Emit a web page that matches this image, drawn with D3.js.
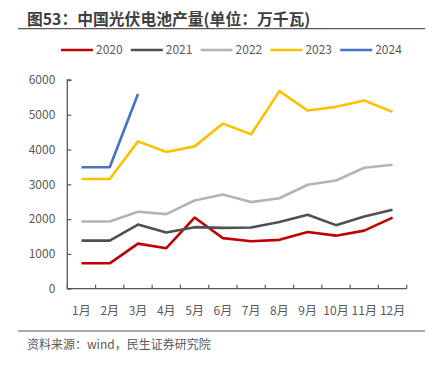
<!DOCTYPE html>
<html><head><meta charset="utf-8">
<script src="https://cdn.jsdelivr.net/npm/d3@7"></script>
<style>body{margin:0;background:#fff}svg{display:block}</style>
</head><body>
<script>
const months = ["1月","2月","3月","4月","5月","6月","7月","8月","9月","10月","11月","12月"];
const years = ["2020","2021","2022","2023","2024"];
const colors = ["#C00000","#505050","#B4B4B4","#FFC000","#4472C4"];
const v2020 = [730,730,1295,1165,2045,1455,1365,1405,1632,1525,1670,2045];
const v2021 = [1383,1383,1844,1614,1769,1749,1758,1920,2124,1827,2075,2268];
const v2022 = [1931,1931,2210,2144,2536,2709,2490,2600,2988,3112,3478,3565];
const v2023 = [3153,3153,4236,3931,4092,4746,4438,5680,5121,5228,5409,5083];
const v2024 = [3490,3490,5600];
const yTicks = [0,1000,2000,3000,4000,5000,6000];
const series = [v2020,v2021,v2022,v2023,v2024];

const W=435,H=370;
const svg = d3.select("body").append("svg").attr("width",W).attr("height",H);
const txt = "#595959";
const cjk = "'Noto Sans CJK SC','Microsoft YaHei',sans-serif";

svg.append("text").attr("x",27).attr("y",24.5).attr("font-family",cjk).attr("font-size",15.8)
  .attr("font-weight","bold").attr("fill","#404040").text("图53：中国光伏电池产量(单位：万千瓦)");
svg.append("line").attr("x1",18).attr("x2",425).attr("y1",28.7).attr("y2",28.7).attr("stroke","#595959").attr("stroke-width",1.2);

const x = d3.scaleBand().domain(months).range([67.3,406.7]).paddingInner(0).paddingOuter(0);
const y = d3.scaleLinear().domain([0,6000]).range([288.7,80]);

// legend
const lg = svg.append("g");
years.forEach((yr,i)=>{
  const lx = 61 + i*69.8;
  lg.append("line").attr("x1",lx).attr("x2",lx+32).attr("y1",50).attr("y2",50).attr("stroke",colors[i]).attr("stroke-width",2.5);
  lg.append("text").attr("x",lx+35).attr("y",54.3).attr("font-family",cjk).attr("font-size",12).attr("fill",txt).text(yr);
});

// y axis
const yAxis = svg.append("g").attr("transform","translate(67.3,0)")
  .call(d3.axisLeft(y).tickValues(yTicks).tickSize(-4).tickPadding(12).tickFormat(d3.format("d")));
yAxis.select(".domain").attr("stroke","#595959").attr("stroke-width",1.3).attr("d","M4,80H0V288.7");
yAxis.selectAll(".tick line").attr("stroke","#595959").attr("stroke-width",1.2);
yAxis.selectAll(".tick text").attr("font-family",cjk).attr("font-size",12).attr("fill",txt);

// x axis
const xAxis = svg.append("g").attr("transform","translate(0,288.7)");
xAxis.append("line").attr("x1",67.3).attr("x2",406.7).attr("stroke","#595959").attr("stroke-width",1.3);
const bounds = months.map(m=>x(m)).concat([x(months[11])+x.bandwidth()]);
xAxis.selectAll("line.tk").data(bounds).enter().append("line").attr("class","tk")
  .attr("x1",d=>d).attr("x2",d=>d).attr("y1",0).attr("y2",-4).attr("stroke","#595959").attr("stroke-width",1.2);
xAxis.selectAll("text").data(months).enter().append("text")
  .attr("x",d=>x(d)+x.bandwidth()/2).attr("y",26.5).attr("text-anchor","middle")
  .attr("font-family",cjk).attr("font-size",12).attr("fill",txt).text(d=>d);

// lines
const line = d3.line().x((d,i)=>x(months[i])+x.bandwidth()/2).y(d=>y(d));
series.forEach((s,i)=>{
  svg.append("path").datum(s).attr("d",line).attr("fill","none").attr("stroke",colors[i])
    .attr("stroke-width",2.6).attr("stroke-linejoin","round");
});

svg.append("line").attr("x1",18).attr("x2",425).attr("y1",331).attr("y2",331).attr("stroke","#595959").attr("stroke-width",1.2);
svg.append("text").attr("x",27).attr("y",348.5).attr("font-family",cjk).attr("font-size",12).attr("fill",txt)
  .text("资料来源：wind，民生证券研究院");
</script>
</body></html>
